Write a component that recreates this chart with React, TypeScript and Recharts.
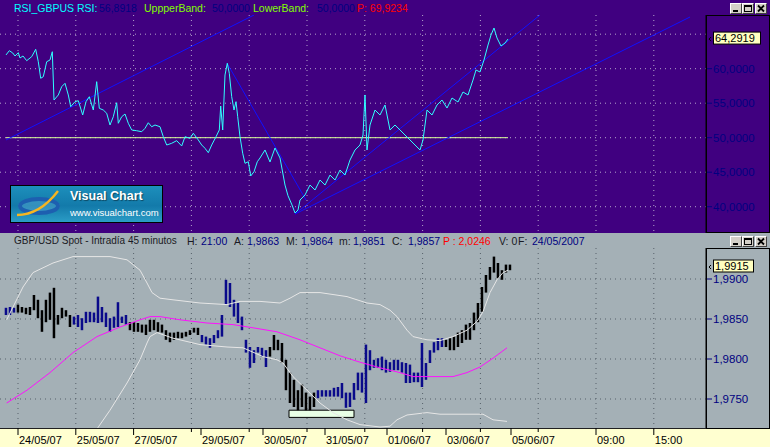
import React from "react";
import {
  ComposedChart,
  Line,
  Bar,
  XAxis,
  YAxis,
  CartesianGrid,
  ReferenceLine,
  ReferenceArea,
} from "recharts";

const FONT = "'Liberation Sans', Arial, Helvetica, sans-serif";
const PURPLE = "#400080";
const GREY = "#A4B0B6";
const NAVY = "#000080";
const BAR_BLUE = "#0A0A8A";

// time axis: one unit = one screen slot of the intraday feed
const SLOT_MAX = 706;
const gridSlots = [18, 75.8, 133.6, 191.4, 249.2, 307, 364.8, 422.6, 480.4, 538.2, 596, 653.8];
const dateSlots = [18, 75.8, 133.6, 201, 263, 325, 387, 446, 511, 596, 653.8];
const dateLabels = ["24/05/07", "25/05/07", "27/05/07", "29/05/07", "30/05/07", "31/05/07", "01/06/07", "03/06/07", "05/06/07", "09:00", "15:00"];

// RSI panel
const rsiTicks = [40, 45, 50, 55, 60];
const rsiGrid = [40, 45, 50, 55, 60, 65];
const bandLevel = 50;
const rsiSlots = [
  6, 9.3, 12.7, 15, 18.3, 20, 23, 26.7, 31.7, 35.7,
  38.3, 40.7, 43.3, 46.7, 50, 52.3, 54, 58.3, 61.7, 65,
  68.3, 70.7, 75, 78.3, 82.7, 86, 89.3, 93.3, 96.7, 99.3,
  103.3, 106.7, 110, 113.3, 116.7, 118.3, 121.7, 125, 128.3, 131.7,
  136.7, 141.7, 145, 148.3, 151.7, 155, 160, 163.3, 166.7, 171.7,
  176.7, 181.7, 185, 190, 193.3, 198.3, 201.7, 205, 208.3, 211.7,
  216, 219.3, 220.7, 222.7, 225, 227.3, 229.3, 231.7, 234, 236,
  237.7, 240, 242.7, 245, 248.3, 250.7, 254, 257.3, 260, 265,
  270, 275, 280, 285, 288, 292, 295, 298, 300, 305,
  310, 315, 320, 325, 330, 335, 340, 345, 350, 355,
  360, 363, 365, 367, 370, 375, 380, 385, 390, 395,
  400, 405, 410, 415, 420, 423, 427, 432, 437, 442,
  447, 452, 458, 463, 468, 473, 476, 480, 484, 488,
  491, 494, 497, 501, 505, 508,
];
const rsiValues = [
  61.99, 62.61, 62.28, 61.84, 62.32, 61.55, 61.84, 61.16, 61.74, 62.81,
  61.01, 58.61, 58.84, 61.01, 61.26, 62.46, 55.46, 56.19, 57.39, 57.88,
  56.19, 54.49, 55.22, 55.36, 53.29, 55.22, 55.94, 54.01, 58.12, 54.26,
  54.01, 53.54, 51.84, 53.04, 55.07, 52.09, 53.04, 53.43, 52.09, 51.12,
  51.01, 50.87, 51.36, 52.17, 51.59, 51.84, 51.59, 50.14, 48.94, 49.19,
  49.57, 48.8, 50.14, 49.91, 50.64, 49.67, 48.94, 48.46, 47.83, 48.94,
  50.14, 51.12, 54.59, 51.12, 59.09, 60.78, 59.33, 55.94, 54.01, 55.22,
  53.04, 50.14, 47.74, 46.29, 46.52, 44.45, 45.07, 46.52, 47.06, 48.22,
  46.48, 48.51, 47.06, 43.14, 41.59, 40.25, 39.09, 39.52, 40.97, 41.7,
  43.14, 42.42, 43.87, 43.14, 44.59, 43.87, 45.32, 44.59, 46.77, 48.22,
  48.94, 50.39, 56.19, 48.22, 51.84, 54.01, 53.29, 54.74, 51.12, 51.84,
  51.12, 50.39, 49.67, 48.94, 48.22, 49.67, 54.01, 53.29, 54.74, 55.46,
  54.3, 55.75, 55.17, 56.62, 56.19, 58.36, 59.81, 59.52, 61.26, 63.43,
  64.88, 65.9, 64.45, 63.29, 63.72, 64.2919,
];
// hand-drawn trend lines: [slotA, rsiA, slotB, rsiB]
const trendLines = [
  [6, 49.67, 254, 67.78],
  [227, 60.8, 306, 40.97],
  [295, 38.94, 540, 67.78],
  [295, 38.94, 690, 67.49],
];

// price panel (45 min bars, one every 4 slots starting at slot 6)
const priceTicks = [1.975, 1.98, 1.985, 1.99];
const lastPrice = 1.9915;
const priceHigh = [
  1.9864, 1.9865, 1.9864, 1.9868, 1.9865, 1.9864, 1.9865, 1.988, 1.9874, 1.9861,
  1.9874, 1.9883, 1.9889, 1.9855, 1.9864, 1.9861, 1.9855, 1.9853, 1.9855, 1.9851,
  1.9859, 1.9859, 1.9858, 1.9878, 1.9865, 1.9858, 1.9851, 1.9853, 1.9871, 1.9853,
  1.9855, 1.9846, 1.9846, 1.9845, 1.9843, 1.9843, 1.9849, 1.9849, 1.9846, 1.9843,
  1.9836, 1.9833, 1.9833, 1.9834, 1.9833, 1.9834, 1.9836, 1.9839, 1.9839, 1.983,
  1.9828, 1.9826, 1.983, 1.9836, 1.9855, 1.9899, 1.9895, 1.9874, 1.987, 1.9853,
  1.9824, 1.9815, 1.9811, 1.9815, 1.9814, 1.9811, 1.9815, 1.983, 1.9824, 1.982,
  1.9799, 1.9783, 1.9774, 1.9761, 1.9768, 1.9758, 1.9753, 1.9758, 1.9761, 1.9761,
  1.9761, 1.9761, 1.9764, 1.9765, 1.977, 1.9758, 1.9758, 1.977, 1.9783, 1.9783,
  1.9818, 1.9811, 1.9799, 1.9801, 1.9803, 1.9799, 1.9796, 1.9799, 1.9799, 1.9796,
  1.9795, 1.9793, 1.9783, 1.9783, 1.982, 1.9795, 1.9811, 1.9821, 1.9826, 1.9826,
  1.9824, 1.9826, 1.9828, 1.9833, 1.9836, 1.9843, 1.9845, 1.9858, 1.987, 1.989,
  1.9905, 1.9915, 1.9928, 1.992, 1.9911, 1.9918, 1.9918,
];
const priceLow = [
  1.9855, 1.9855, 1.9858, 1.9858, 1.9858, 1.9856, 1.9855, 1.9861, 1.9851, 1.9834,
  1.9846, 1.9849, 1.9826, 1.9843, 1.9851, 1.9853, 1.984, 1.9843, 1.984, 1.9836,
  1.9845, 1.9846, 1.9846, 1.9845, 1.9846, 1.984, 1.9834, 1.9839, 1.984, 1.9845,
  1.9843, 1.9836, 1.9834, 1.9834, 1.9833, 1.983, 1.9834, 1.9836, 1.9834, 1.9833,
  1.9824, 1.9821, 1.9824, 1.9826, 1.9826, 1.9828, 1.983, 1.9833, 1.983, 1.9821,
  1.9818, 1.9814, 1.982, 1.9826, 1.9828, 1.9868, 1.9865, 1.9853, 1.9845, 1.9836,
  1.9808, 1.9789, 1.9795, 1.9808, 1.9803, 1.979, 1.9803, 1.9811, 1.9811, 1.9795,
  1.9761, 1.9745, 1.974, 1.9736, 1.974, 1.9736, 1.9736, 1.974, 1.9751, 1.9753,
  1.9753, 1.9753, 1.9753, 1.9753, 1.9751, 1.9739, 1.974, 1.9749, 1.9761, 1.9758,
  1.9745, 1.9786, 1.9789, 1.9789, 1.9786, 1.9783, 1.9784, 1.9786, 1.9786, 1.9783,
  1.977, 1.977, 1.9771, 1.9771, 1.9765, 1.9774, 1.9795, 1.9808, 1.9811, 1.9815,
  1.9815, 1.9811, 1.9811, 1.9815, 1.982, 1.9824, 1.9824, 1.9836, 1.9846, 1.9859,
  1.9883, 1.9899, 1.9908, 1.9901, 1.9899, 1.9908, 1.9911,
];
// 1 = blue bar, 0 = black bar
const priceTone = [
  1, 1, 1, 0, 0, 0, 0, 0, 0, 0,
  0, 0, 0, 0, 0, 0, 0, 1, 1, 1,
  1, 1, 1, 1, 1, 1, 1, 1, 1, 1,
  1, 0, 0, 0, 0, 0, 0, 0, 0, 0,
  0, 0, 0, 0, 0, 0, 0, 0, 0, 1,
  1, 1, 1, 1, 1, 1, 1, 1, 1, 1,
  1, 1, 1, 1, 1, 1, 0, 0, 0, 0,
  0, 0, 0, 0, 0, 0, 0, 0, 1, 1,
  1, 1, 1, 1, 1, 1, 1, 1, 1, 1,
  1, 1, 1, 1, 1, 1, 1, 1, 1, 1,
  1, 1, 1, 1, 1, 1, 1, 1, 1, 1,
  0, 0, 0, 0, 0, 0, 0, 0, 0, 0,
  0, 0, 0, 0, 0, 0, 0,
];
const upperSlots = [6.7, 13, 23, 33, 43, 53, 63, 73, 87, 110, 127, 140, 147, 152, 160, 173, 200, 227, 240, 260, 280, 290, 300, 320, 347, 367, 380, 390, 397, 407, 413, 427, 440, 453, 467, 477, 483, 490, 497, 503, 508];
const upperValues = [1.9849, 1.9865, 1.989, 1.9908, 1.9914, 1.992, 1.9924, 1.9928, 1.9928, 1.9928, 1.9924, 1.9911, 1.9895, 1.9883, 1.9876, 1.9874, 1.987, 1.9868, 1.9872, 1.9872, 1.987, 1.9876, 1.9883, 1.9883, 1.9878, 1.987, 1.9868, 1.9861, 1.9853, 1.9836, 1.9828, 1.9824, 1.9823, 1.9828, 1.9836, 1.9847, 1.9859, 1.9883, 1.9899, 1.9908, 1.9911];
const lowerSlots = [95, 110, 127, 140, 147, 150, 157, 173, 200, 227, 243, 263, 277, 283, 293, 307, 320, 333, 347, 360, 380, 390, 397, 407, 427, 440, 467, 483, 493, 507];
const lowerValues = [1.9709, 1.9736, 1.977, 1.9799, 1.982, 1.9828, 1.9833, 1.9826, 1.9818, 1.9815, 1.9814, 1.9803, 1.9799, 1.9795, 1.9778, 1.9761, 1.9745, 1.9733, 1.9724, 1.9718, 1.9715, 1.9716, 1.9724, 1.973, 1.9733, 1.9731, 1.9731, 1.9731, 1.9724, 1.9722];
const maSlots = [6.7, 27, 50, 73, 97, 120, 140, 150, 160, 180, 207, 233, 253, 277, 300, 320, 340, 360, 380, 400, 413, 433, 453, 467, 480, 493, 507];
const maValues = [1.9745, 1.9761, 1.9783, 1.9808, 1.9828, 1.984, 1.9849, 1.9853, 1.9853, 1.9849, 1.9845, 1.9843, 1.9839, 1.9834, 1.9824, 1.9814, 1.9804, 1.9796, 1.9789, 1.9783, 1.9778, 1.9778, 1.9778, 1.9783, 1.979, 1.9801, 1.9814];
// marked support zone under the 30/05 - 31/05 lows
const supportZone = { from: 289, to: 354, low: 1.9727, high: 1.9736 };

const rsiData = rsiSlots.map((t, i) => ({ t, v: rsiValues[i] }));
const bars = priceHigh.map((h, i) => ({ t: 6 + i * 4, range: [priceLow[i], h], tone: priceTone[i] }));
const upperData = upperSlots.map((t, i) => ({ t, v: upperValues[i] }));
const lowerData = lowerSlots.map((t, i) => ({ t, v: lowerValues[i] }));
const maData = maSlots.map((t, i) => ({ t, v: maValues[i] }));
const timeTicks = [...gridSlots, ...dateSlots.filter((d) => !gridSlots.some((g) => Math.abs(g - d) < 1.5))].sort((a, b) => a - b);

const comma = (v: number, d = 4) => v.toFixed(d).replace(".", ",");

const TimeTick = (props: any) => {
  const { x, y, payload } = props;
  const idx = dateSlots.findIndex((d) => Math.abs(d - payload.value) < 1.5);
  return (
    <g>
      <line x1={x} x2={x} y1={y} y2={y + (idx >= 0 ? 7 : 4)} stroke="#000" />
      {idx >= 0 && (
        <text x={x + 1} y={y + 16} fontSize={11} fill="#000" fontFamily={FONT}>
          {dateLabels[idx]}
        </text>
      )}
    </g>
  );
};

const PriceBar = (p: any) => {
  if (!isFinite(p.x) || !isFinite(p.y) || !isFinite(p.height)) return null;
  const cx = p.x + (p.width || 0) / 2;
  const top = Math.min(p.y, p.y + p.height);
  const h = Math.max(Math.abs(p.height), 1);
  return <rect x={cx - 1.25} y={top} width={2.5} height={h} fill={p.payload?.tone ? BAR_BLUE : "#000"} />;
};

const ValueTag = (props: any) => {
  const { viewBox, text, w } = props;
  if (!viewBox) return null;
  const x = viewBox.x + viewBox.width;
  const y = viewBox.y;
  return (
    <g>
      <polyline points={`${x + 5},${y - 2} ${x + 3},${y} ${x + 5},${y + 2}`} fill="none" stroke="#000" />
      <rect x={x + 7.5} y={y - 7} width={w} height={12} fill="#FFFFC0" stroke="#000" />
      <text x={x + 9} y={y + 3} fontSize={11} fill="#000" fontFamily={FONT}>
        {text}
      </text>
    </g>
  );
};

const WinButtons = ({ top }: { top: number }) => (
  <>
    {[730, 742, 755].map((left, i) => (
      <div
        key={i}
        style={{
          position: "absolute", left, top, width: 12, height: 11, boxSizing: "border-box", background: "#D4D0C8",
          borderTop: "1px solid #fff", borderLeft: "1px solid #fff", borderRight: "1px solid #404040", borderBottom: "1px solid #404040",
        }}
      >
        <svg width={10} height={9} style={{ position: "absolute", left: 0, top: 0 }}>
          {i === 0 && <rect x={2} y={6} width={5} height={2} fill="#000" />}
          {i === 1 && <rect x={1.5} y={1.5} width={7} height={6} fill="none" stroke="#000" />}
          {i === 1 && <rect x={1} y={1} width={8} height={2} fill="#000" />}
          {i === 2 && <path d="M2 1.5 L8 7.5 M8 1.5 L2 7.5" stroke="#000" strokeWidth={1.8} />}
        </svg>
      </div>
    ))}
  </>
);

const Logo = () => (
  <div
    style={{
      position: "absolute", left: 10, top: 185, width: 153, height: 38, boxSizing: "border-box", border: "1px solid #000",
      background: "linear-gradient(180deg, #1D8FBC 0%, #137AAA 55%, #2B9CC6 100%)",
    }}
  >
    <svg width={60} height={36} style={{ position: "absolute", left: 0, top: 0 }}>
      <ellipse cx={28} cy={20} rx={21} ry={8} fill="#6FB6E0" opacity={0.35} />
      <ellipse cx={28} cy={20} rx={19} ry={7} fill="none" stroke="#1D5FB0" strokeWidth={4} />
      <path d="M6 29 C 20 29, 34 22, 47 5" stroke="#F6B520" strokeWidth={2.4} fill="none" />
    </svg>
    <div style={{ position: "absolute", left: 59, top: 3, color: "#fff", font: `bold 12.5px ${FONT}`, textShadow: "1px 1px 1px rgba(0,0,0,0.45)", whiteSpace: "nowrap" }}>
      Visual Chart
    </div>
    <div style={{ position: "absolute", left: 59, top: 21, color: "#fff", font: `9.5px ${FONT}`, whiteSpace: "nowrap" }}>
      www.visualchart.com
    </div>
  </div>
);

const T = ({ left, top, color, size = 10.5, children }: any) => (
  <span style={{ position: "absolute", left, top, color, font: `${size}px ${FONT}`, whiteSpace: "nowrap" }}>{children}</span>
);

export default function App() {
  const lastRsi = rsiValues[rsiValues.length - 1];
  return (
    <div style={{ position: "fixed", left: 0, top: 0, width: 770, height: 447, overflow: "hidden", background: GREY, fontFamily: FONT }}>
      <div style={{ position: "absolute", left: 0, top: 0, width: 770, height: 233, background: PURPLE }} />
      <div style={{ position: "absolute", left: 0, top: 428, width: 770, height: 19, background: "#FFFFD0" }} />
      <div style={{ position: "absolute", left: 0, top: 428, width: 770, height: 1, background: "#202020" }} />

      {/* RSI panel */}
      <div style={{ position: "absolute", left: 0, top: 15 }}>
        <ComposedChart width={770} height={218} data={rsiData} margin={{ top: 0, right: 0, bottom: 0, left: 0 }}>
          <CartesianGrid stroke="#B4A4CC" strokeDasharray="1 4" verticalValues={gridSlots} horizontalValues={rsiGrid} />
          <XAxis dataKey="t" type="number" domain={[0, SLOT_MAX]} ticks={gridSlots} allowDataOverflow hide />
          <YAxis
            orientation="right"
            width={64}
            domain={[36.19, 67.78]}
            ticks={rsiTicks}
            allowDataOverflow
            tickFormatter={(v: number) => comma(v)}
            tick={{ fill: NAVY, fontSize: 11.5, fontFamily: FONT }}
            tickLine={{ stroke: NAVY }}
            tickSize={6}
            tickMargin={1}
            axisLine={{ stroke: "#000" }}
          />
          <ReferenceLine
            segment={[{ x: 6, y: bandLevel }, { x: 508, y: bandLevel }]}
            stroke="#DCFF9A"
            strokeWidth={1}
          />
          {trendLines.map((l, i) => (
            <ReferenceLine
              key={i}
              segment={[{ x: l[0], y: l[1] }, { x: l[2], y: l[3] }]}
              stroke="#1010FF"
              strokeWidth={1}
              ifOverflow="hidden"
            />
          ))}
          <Line dataKey="v" type="linear" stroke="#30FFFF" strokeWidth={1} dot={false} isAnimationActive={false} />
          <ReferenceLine
            y={lastRsi}
            stroke="none"
            label={(p: any) => <ValueTag {...p} text={comma(lastRsi)} w={47} />}
          />
        </ComposedChart>
      </div>

      {/* price panel */}
      <div style={{ position: "absolute", left: 0, top: 248 }}>
        <ComposedChart width={770} height={199} data={bars} margin={{ top: 0, right: 0, bottom: 0, left: 0 }}>
          <CartesianGrid stroke="#56606A" strokeDasharray="1 4" verticalValues={gridSlots} horizontalValues={priceTicks} />
          <XAxis
            dataKey="t"
            type="number"
            domain={[0, SLOT_MAX]}
            ticks={timeTicks}
            interval={0}
            allowDataOverflow
            height={19}
            axisLine={false}
            tickLine={false}
            tickSize={0}
            tickMargin={0}
            tick={<TimeTick />}
          />
          <YAxis
            orientation="right"
            width={64}
            domain={[1.971375, 1.993875]}
            ticks={priceTicks}
            allowDataOverflow
            tickFormatter={(v: number) => comma(v)}
            tick={{ fill: NAVY, fontSize: 11.5, fontFamily: FONT }}
            tickLine={{ stroke: NAVY }}
            tickSize={6}
            tickMargin={1}
            axisLine={{ stroke: "#000" }}
          />
          <Line data={upperData} dataKey="v" type="linear" stroke="#E6E6E6" strokeWidth={1} dot={false} isAnimationActive={false} />
          <Line data={lowerData} dataKey="v" type="linear" stroke="#E6E6E6" strokeWidth={1} dot={false} isAnimationActive={false} />
          <Line data={maData} dataKey="v" type="linear" stroke="#FF10FF" strokeWidth={1} dot={false} isAnimationActive={false} />
          <Bar dataKey="range" barSize={3} isAnimationActive={false} shape={<PriceBar />} />
          <ReferenceArea
            x1={supportZone.from}
            x2={supportZone.to}
            y1={supportZone.low}
            y2={supportZone.high}
            fill="#E8FFE6"
            fillOpacity={1}
            stroke="#000"
          />
          <ReferenceLine
            y={lastPrice}
            stroke="none"
            label={(p: any) => <ValueTag {...p} text={comma(lastPrice)} w={40} />}
          />
        </ComposedChart>
      </div>

      {/* axis frames */}
      <div style={{ position: "absolute", left: 706, top: 15, width: 64, height: 218, boxSizing: "border-box", border: "1px solid #000" }} />
      <div style={{ position: "absolute", left: 706, top: 248, width: 64, height: 181, boxSizing: "border-box", border: "1px solid #000" }} />

      {/* panel titles */}
      <T left={14} top={2} color="#00FFFF">RSI_GBPUS RSI:</T>
      <T left={99} top={2} color={NAVY}>56,8918</T>
      <T left={144} top={2} color="#80FF00">UppperBand:</T>
      <T left={212} top={2} color={NAVY}>50,0000</T>
      <T left={253} top={2} color="#80FF00">LowerBand:</T>
      <T left={317} top={2} color={NAVY}>50,0000</T>
      <T left={357} top={2} color="#FF0000">P: 69,9234</T>
      <WinButtons top={3} />

      <T left={14} top={235} size={10} color="#1A1A24">GBP/USD Spot - Intradía 45 minutos</T>
      <T left={187} top={235} color="#1A1A24">H:</T>
      <T left={201} top={235} color={NAVY}>21:00</T>
      <T left={234} top={235} color="#1A1A24">A:</T>
      <T left={247} top={235} color={NAVY}>1,9863</T>
      <T left={286} top={235} color="#1A1A24">M:</T>
      <T left={301} top={235} color={NAVY}>1,9864</T>
      <T left={339} top={235} color="#1A1A24">m:</T>
      <T left={353} top={235} color={NAVY}>1,9851</T>
      <T left={392} top={235} color="#1A1A24">C:</T>
      <T left={408} top={235} color={NAVY}>1,9857</T>
      <T left={443} top={235} color="#FF0000">P : 2,0246</T>
      <T left={499} top={235} color="#1A1A24">V: 0</T>
      <T left={518} top={235} color="#1A1A24">F:</T>
      <T left={532} top={235} color={NAVY}>24/05/2007</T>
      <WinButtons top={236} />

      <Logo />
    </div>
  );
}
